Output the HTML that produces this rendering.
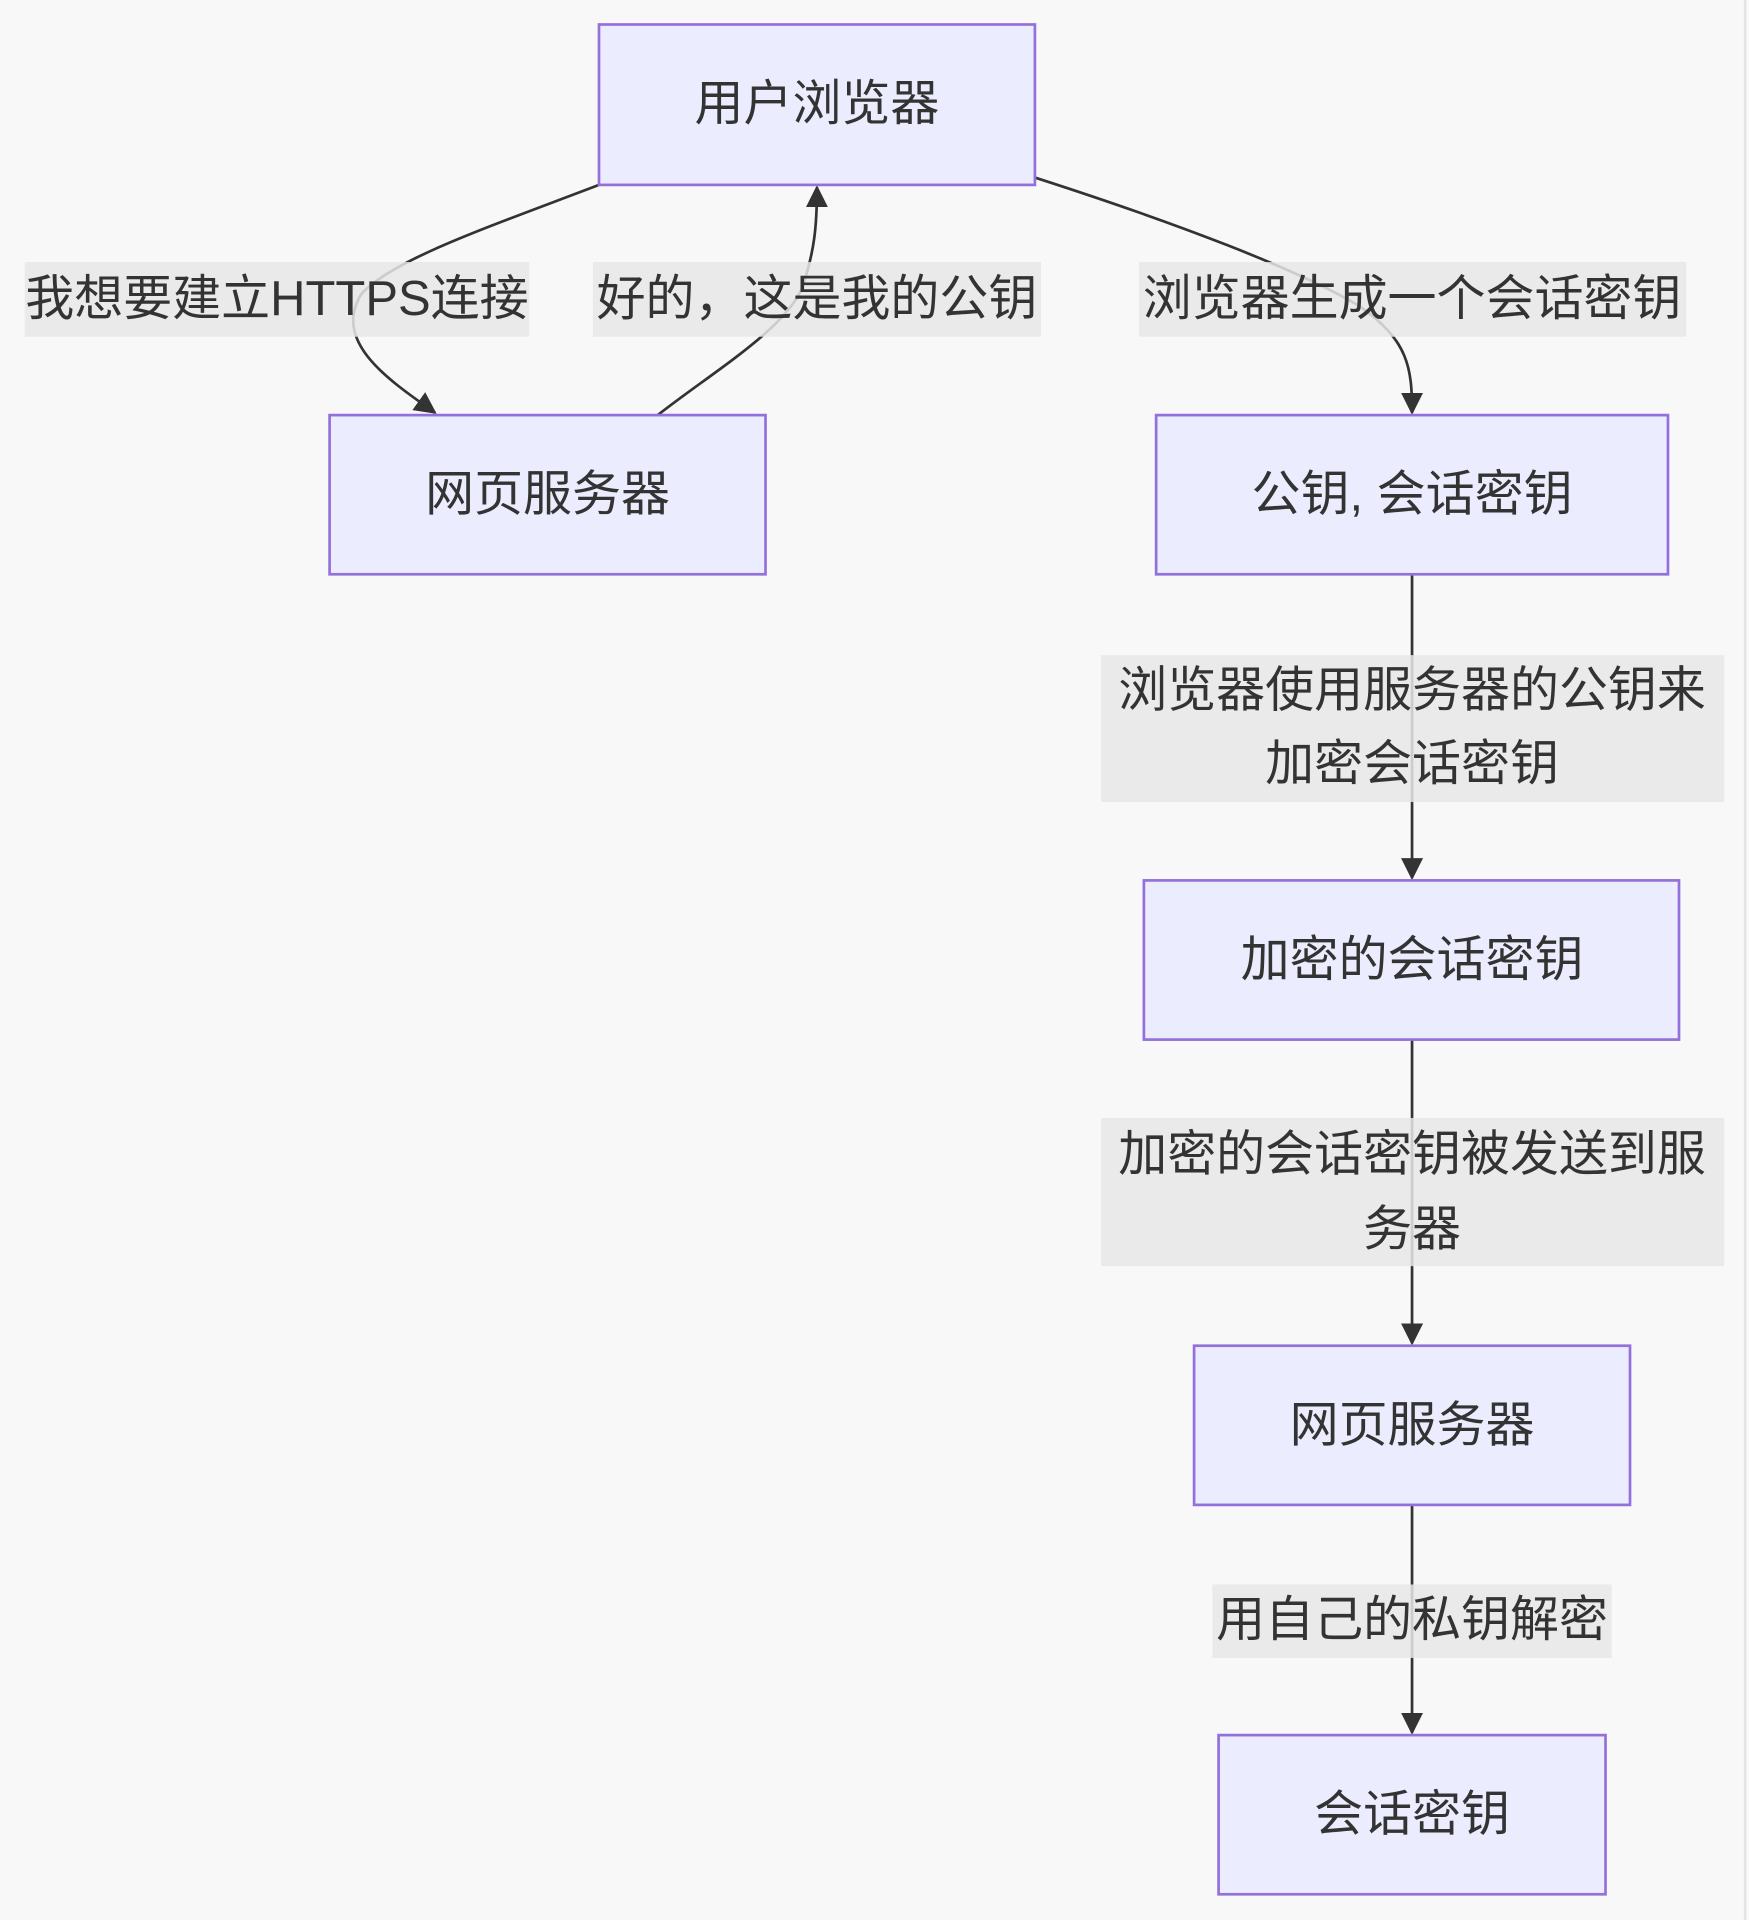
<!DOCTYPE html>
<html><head><meta charset="utf-8">
<style>
html,body{margin:0;padding:0;background:#f8f8f9;}
svg{display:block}
text{font-family:"Liberation Sans","Noto Sans CJK SC",sans-serif;fill:#333;font-size:40px;text-anchor:middle;dominant-baseline:central}
.n{fill:#ececff;stroke:#9370db;stroke-width:2.2}
.l{fill:#e8e8e8;opacity:0.85}
.e{fill:none;stroke:#333;stroke-width:2.2}
</style></head><body>
<svg width="1749" height="1920" viewBox="0 0 1428 1568" xmlns="http://www.w3.org/2000/svg">
<defs><marker id="b" viewBox="0 0 10 10" refX="9" refY="5" markerWidth="18" markerHeight="18" markerUnits="userSpaceOnUse" orient="auto"><path d="M0,0L10,5L0,10z" fill="#333"/></marker></defs>
<rect width="1428" height="1568" fill="#f8f8f9"/>
<line x1="1425" y1="0" x2="1425" y2="1568" stroke="#e4e4e6" stroke-width="2"/>
<path class="e" d="M489,151 C400,185 320,212 295,240 C270,280 320,312 355,337" marker-end="url(#b)"/>
<path class="e" d="M537,339 C580,305 640,270 655,235 C665,205 667,185 667,153" marker-end="url(#b)"/>
<path class="e" d="M845,145 C960,182 1060,220 1110,250 C1150,278 1153,300 1153,337" marker-end="url(#b)"/>
<path class="e" d="M1153,469 L1153,717" marker-end="url(#b)"/>
<path class="e" d="M1153,849 L1153,1097" marker-end="url(#b)"/>
<path class="e" d="M1153,1229 L1153,1415" marker-end="url(#b)"/>
<rect class="l" x="20" y="214" width="412" height="61"/><text x="226" y="244">我想要建立HTTPS连接</text>
<rect class="l" x="484" y="214" width="366" height="61"/><text x="667" y="244">好的，这是我的公钥</text>
<rect class="l" x="930" y="214" width="447" height="61"/><text x="1153" y="244">浏览器生成一个会话密钥</text>
<rect class="l" x="899" y="535" width="509" height="120"/><text x="1153" y="564">浏览器使用服务器的公钥来</text><text x="1153" y="624">加密会话密钥</text>
<rect class="l" x="899" y="913" width="509" height="121"/><text x="1153" y="943">加密的会话密钥被发送到服</text><text x="1153" y="1004">务器</text>
<rect class="l" x="990" y="1294" width="326" height="60"/><text x="1153" y="1323">用自己的私钥解密</text>
<rect class="n" x="489" y="20" width="356" height="131"/><text x="667" y="85">用户浏览器</text>
<rect class="n" x="269" y="339" width="356" height="130"/><text x="447" y="404">网页服务器</text>
<rect class="n" x="944" y="339" width="418" height="130"/><text x="1153" y="404">公钥, 会话密钥</text>
<rect class="n" x="934" y="719" width="437" height="130"/><text x="1153" y="784">加密的会话密钥</text>
<rect class="n" x="975" y="1099" width="356" height="130"/><text x="1153" y="1164">网页服务器</text>
<rect class="n" x="995" y="1417" width="316" height="130"/><text x="1153" y="1482">会话密钥</text>
</svg>
</body></html>
